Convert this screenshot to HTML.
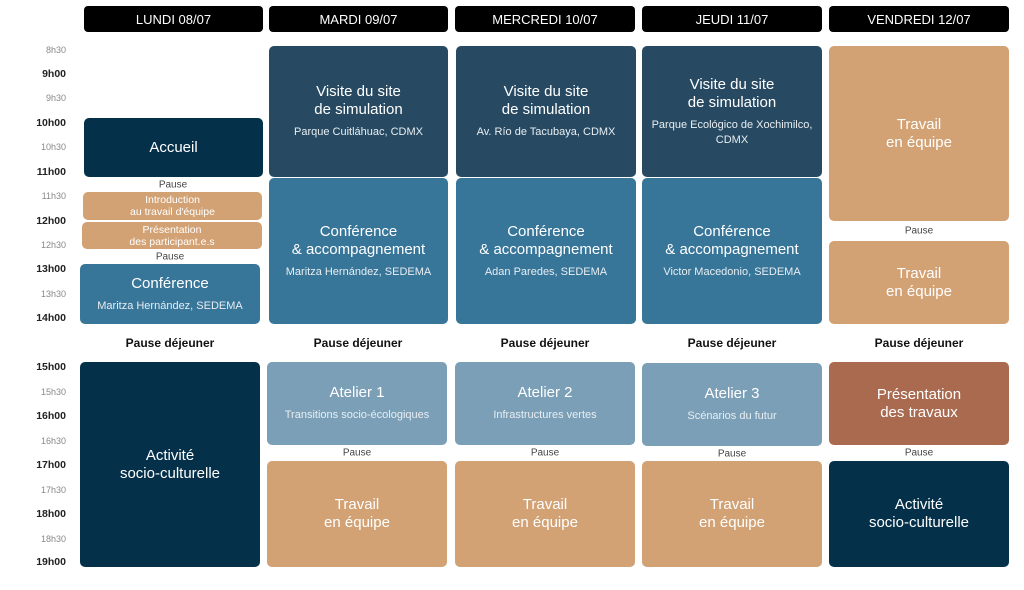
<!DOCTYPE html>
<html><head><meta charset="utf-8"><style>
body{margin:0;width:1024px;height:590px;background:#fff;position:relative;font-family:"Liberation Sans",sans-serif;overflow:hidden}
.b{position:absolute;border-radius:5px;color:#fff;display:flex;flex-direction:column;justify-content:center;align-items:center;text-align:center;box-sizing:border-box}
.h{background:#000;font-size:13px;top:6px;height:26px;border-radius:4px}
.t{font-size:15px;line-height:18px}
.s{font-size:11px;margin-top:6px;line-height:15px;color:#e8eef2}
.sm{font-size:10.5px;line-height:12px}
.dk{background:#04304a}.vi{background:#274a62}.cf{background:#377599}.tn{background:#d2a174}.at{background:#7a9fb7}.br{background:#a96a50}
.tm{position:absolute;right:958px;font-size:9px;color:#888;transform:translateY(-50%)}
.tm.m{font-size:10.5px;font-weight:bold;color:#222}
.p{position:absolute;font-size:10px;color:#444;transform:translate(-50%,-50%)}
.pd{position:absolute;font-size:12px;font-weight:bold;color:#111;transform:translate(-50%,-50%)}
</style></head><body>
<div class="b h" style="left:84px;width:179px">LUNDI 08/07</div>
<div class="b h" style="left:269px;width:179px">MARDI 09/07</div>
<div class="b h" style="left:455px;width:180px">MERCREDI 10/07</div>
<div class="b h" style="left:642px;width:180px">JEUDI 11/07</div>
<div class="b h" style="left:829px;width:180px">VENDREDI 12/07</div>

<div class="tm" style="top:50px">8h30</div>
<div class="tm m" style="top:74px">9h00</div>
<div class="tm" style="top:98px">9h30</div>
<div class="tm m" style="top:123px">10h00</div>
<div class="tm" style="top:147px">10h30</div>
<div class="tm m" style="top:172px">11h00</div>
<div class="tm" style="top:196px">11h30</div>
<div class="tm m" style="top:221px">12h00</div>
<div class="tm" style="top:245px">12h30</div>
<div class="tm m" style="top:269px">13h00</div>
<div class="tm" style="top:294px">13h30</div>
<div class="tm m" style="top:318px">14h00</div>
<div class="tm m" style="top:367px">15h00</div>
<div class="tm" style="top:392px">15h30</div>
<div class="tm m" style="top:416px">16h00</div>
<div class="tm" style="top:441px">16h30</div>
<div class="tm m" style="top:465px">17h00</div>
<div class="tm" style="top:490px">17h30</div>
<div class="tm m" style="top:514px">18h00</div>
<div class="tm" style="top:539px">18h30</div>
<div class="tm m" style="top:562px">19h00</div>

<!-- Lundi -->
<div class="b dk" style="left:84px;top:118px;width:179px;height:59px"><div class="t">Accueil</div></div>
<div class="p" style="left:173px;top:185px">Pause</div>
<div class="b tn" style="left:83px;top:192px;width:179px;height:28px"><div class="sm">Introduction<br>au travail d'équipe</div></div>
<div class="b tn" style="left:82px;top:222px;width:180px;height:27px"><div class="sm">Présentation<br>des participant.e.s</div></div>
<div class="p" style="left:170px;top:257px">Pause</div>
<div class="b cf" style="left:80px;top:264px;width:180px;height:60px"><div class="t">Conférence</div><div class="s">Maritza Hernández, SEDEMA</div></div>
<div class="pd" style="left:170px;top:343px">Pause déjeuner</div>
<div class="b dk" style="left:80px;top:362px;width:180px;height:205px"><div class="t">Activité<br>socio-culturelle</div></div>

<!-- Mardi -->
<div class="b vi" style="left:269px;top:46px;width:179px;height:131px"><div class="t">Visite du site<br>de simulation</div><div class="s">Parque Cuitláhuac, CDMX</div></div>
<div class="b cf" style="left:269px;top:178px;width:179px;height:146px"><div class="t">Conférence<br>&amp; accompagnement</div><div class="s">Maritza Hernández, SEDEMA</div></div>
<div class="pd" style="left:358px;top:343px">Pause déjeuner</div>
<div class="b at" style="left:267px;top:362px;width:180px;height:83px"><div class="t">Atelier 1</div><div class="s">Transitions socio-écologiques</div></div>
<div class="p" style="left:357px;top:453px">Pause</div>
<div class="b tn" style="left:267px;top:461px;width:180px;height:106px"><div class="t">Travail<br>en équipe</div></div>

<!-- Mercredi -->
<div class="b vi" style="left:456px;top:46px;width:180px;height:131px"><div class="t">Visite du site<br>de simulation</div><div class="s">Av. Río de Tacubaya, CDMX</div></div>
<div class="b cf" style="left:456px;top:178px;width:180px;height:146px"><div class="t">Conférence<br>&amp; accompagnement</div><div class="s">Adan Paredes, SEDEMA</div></div>
<div class="pd" style="left:545px;top:343px">Pause déjeuner</div>
<div class="b at" style="left:455px;top:362px;width:180px;height:83px"><div class="t">Atelier 2</div><div class="s">Infrastructures vertes</div></div>
<div class="p" style="left:545px;top:453px">Pause</div>
<div class="b tn" style="left:455px;top:461px;width:180px;height:106px"><div class="t">Travail<br>en équipe</div></div>

<!-- Jeudi -->
<div class="b vi" style="left:642px;top:46px;width:180px;height:131px"><div class="t">Visite du site<br>de simulation</div><div class="s">Parque Ecológico de Xochimilco,<br>CDMX</div></div>
<div class="b cf" style="left:642px;top:178px;width:180px;height:146px"><div class="t">Conférence<br>&amp; accompagnement</div><div class="s">Victor Macedonio, SEDEMA</div></div>
<div class="pd" style="left:732px;top:343px">Pause déjeuner</div>
<div class="b at" style="left:642px;top:363px;width:180px;height:83px"><div class="t">Atelier 3</div><div class="s">Scénarios du futur</div></div>
<div class="p" style="left:732px;top:454px">Pause</div>
<div class="b tn" style="left:642px;top:461px;width:180px;height:106px"><div class="t">Travail<br>en équipe</div></div>

<!-- Vendredi -->
<div class="b tn" style="left:829px;top:46px;width:180px;height:175px"><div class="t">Travail<br>en équipe</div></div>
<div class="p" style="left:919px;top:231px">Pause</div>
<div class="b tn" style="left:829px;top:241px;width:180px;height:83px"><div class="t">Travail<br>en équipe</div></div>
<div class="pd" style="left:919px;top:343px">Pause déjeuner</div>
<div class="b br" style="left:829px;top:362px;width:180px;height:83px"><div class="t">Présentation<br>des travaux</div></div>
<div class="p" style="left:919px;top:453px">Pause</div>
<div class="b dk" style="left:829px;top:461px;width:180px;height:106px"><div class="t">Activité<br>socio-culturelle</div></div>
</body></html>
